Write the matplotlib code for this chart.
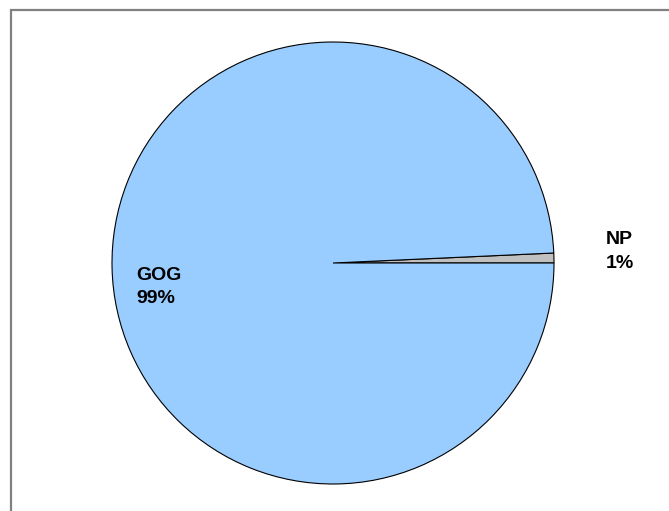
import matplotlib.pyplot as plt
from matplotlib.patches import Rectangle

labels = ['NP', 'GOG']
values = [0.72, 99.28]
pct_text = ['1%', '99%']
colors = ['#C0C0C0', '#99CCFF']

fig = plt.figure(figsize=(6.69, 5.11), dpi=100)
fig.patch.set_facecolor('white')

# frame line on the left and top only (rest is cut off)
fig.add_artist(Rectangle((11 / 669, -0.1), 1.2, (511 - 10) / 511 + 0.1,
                         transform=fig.transFigure, fill=False,
                         edgecolor='#808080', linewidth=1.6))

ax = fig.add_axes([(333 - 221) / 669, (248 - 221) / 511, 442 / 669, 442 / 511])
ax.pie(values, colors=colors, startangle=0, counterclock=True,
       wedgeprops=dict(edgecolor='black', linewidth=0.8))
ax.set_xlim(-1, 1)
ax.set_ylim(-1, 1)
ax.set_aspect('equal')

font = dict(family='Liberation Sans', fontweight='bold', fontsize=14,
            ha='left', va='center', linespacing=1.5)
ax.text(-0.89, -0.109, labels[1] + '\n' + pct_text[1], **font)
ax.text(1.235, 0.052, labels[0] + '\n' + pct_text[0], clip_on=False, **font)

fig.savefig('out.png', dpi=100)
